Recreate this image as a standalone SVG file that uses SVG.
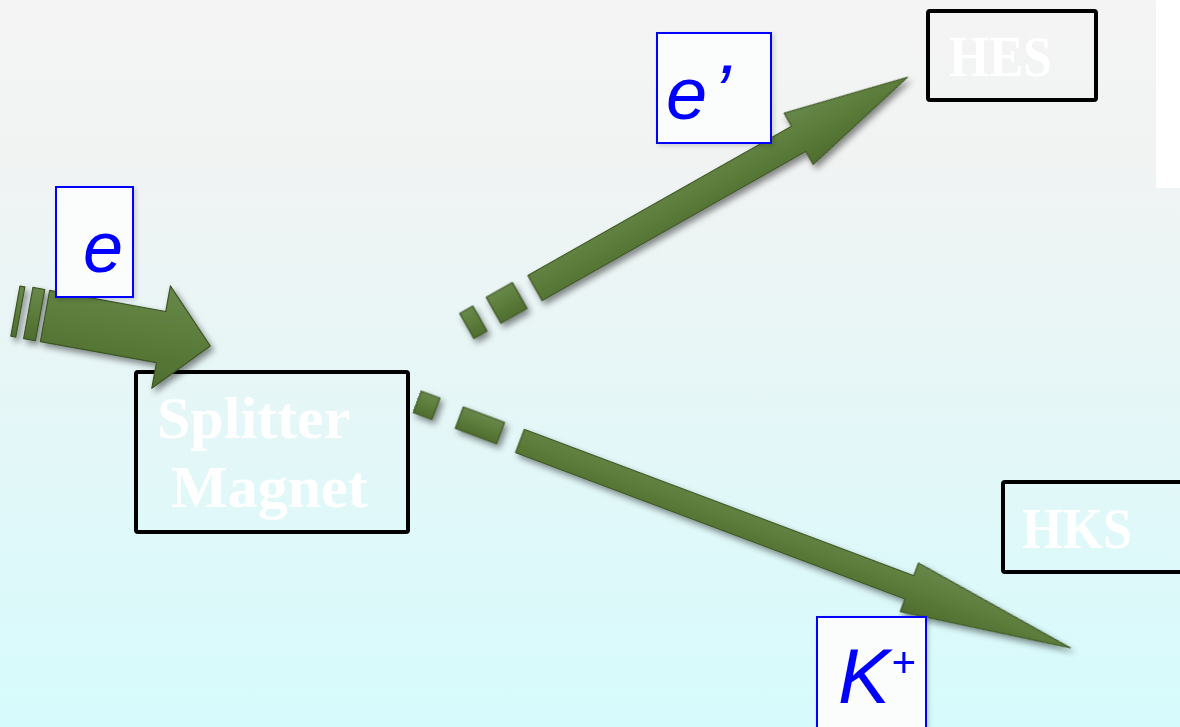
<svg xmlns="http://www.w3.org/2000/svg" width="1180" height="727" viewBox="0 0 1180 727">
  <defs>
    <linearGradient id="bg" x1="0" y1="0" x2="0" y2="1">
      <stop offset="0" stop-color="#f4f4f4"/>
      <stop offset="0.22" stop-color="#f1f3f3"/>
      <stop offset="1" stop-color="#d6fbfc"/>
    </linearGradient>
    <linearGradient id="arrowFill" x1="0" y1="0" x2="0" y2="1">
      <stop offset="0" stop-color="#67884a"/>
      <stop offset="0.5" stop-color="#5b7c3a"/>
      <stop offset="1" stop-color="#4f6d30"/>
    </linearGradient>
    <filter id="shadow" x="-20%" y="-40%" width="140%" height="180%">
      <feDropShadow dx="3" dy="4" stdDeviation="3" flood-color="#000" flood-opacity="0.45"/>
    </filter>
    <filter id="softShadow" x="-10%" y="-10%" width="130%" height="130%">
      <feDropShadow dx="2" dy="2" stdDeviation="2" flood-color="#000" flood-opacity="0.15"/>
    </filter>
  </defs>
  <style>
    .box { fill: none; stroke: #000; stroke-width: 4; }
    .boxtxt { font-family: "Liberation Serif", "Times New Roman", serif; font-weight: bold; fill: #ffffff; }
    .lbl { fill: #fbfcfc; stroke: #0000ff; stroke-width: 2; }
    .lbltxt { font-family: "Liberation Sans", Arial, sans-serif; font-style: italic; fill: #0000ff; }
    .arrow { fill: url(#arrowFill); stroke: #3c5424; stroke-width: 1.2; stroke-linejoin: round; }
  </style>

  <rect x="0" y="0" width="1180" height="727" fill="url(#bg)"/>
  <rect x="1156" y="0" width="24" height="188" fill="#ffffff"/>

  <g id="node-splitter">
    <rect class="box" x="136" y="372" width="272" height="160" rx="2"/>
    <text class="boxtxt" x="157" y="438" font-size="60">Splitter</text>
    <text class="boxtxt" x="171" y="507" font-size="60">Magnet</text>
  </g>

  <g id="node-hes">
    <rect class="box" x="928" y="11" width="168" height="89" rx="2"/>
    <text class="boxtxt" x="949" y="76" font-size="56" textLength="103" lengthAdjust="spacingAndGlyphs">HES</text>
  </g>

  <g id="node-hks">
    <rect class="box" x="1003" y="482" width="190" height="90" rx="2"/>
    <text class="boxtxt" x="1022" y="548" font-size="56" textLength="110" lengthAdjust="spacingAndGlyphs">HKS</text>
  </g>

  <g id="connectors" filter="url(#shadow)">
    <g id="arrow-e" transform="translate(45,316) rotate(10.3)">
      <polygon class="arrow" points="-30,-25 -25,-25 -25,26 -30,26"/>
      <polygon class="arrow" points="-17,-26 -5,-26 -5,26 -17,26"/>
      <polygon class="arrow" points="0,-26 118,-26 118,-52 168,0 118,52 118,26 0,26"/>
    </g>
    <g id="arrow-eprime" transform="translate(535,288) rotate(-29.5)">
      <polygon class="arrow" points="-78,-15 -63,-15 -63,14 -78,14"/>
      <polygon class="arrow" points="-47,-16 -17,-16 -17,14 -47,14"/>
      <polygon class="arrow" points="0,-14.5 303,-14.5 303,-29.5 428,0 303,29.5 303,14.5 0,14.5"/>
    </g>
    <g id="arrow-kplus" transform="translate(520,441) rotate(20.6)">
      <polygon class="arrow" points="-110,-12 -90,-12 -90,11 -110,11"/>
      <polygon class="arrow" points="-65,-12 -21,-12 -21,11 -65,11"/>
      <polygon class="arrow" points="0,-12.5 416,-12.5 416,-26 588,0 416,26 416,12.5 0,12.5"/>
    </g>
  </g>

  <g id="label-e" filter="url(#softShadow)">
    <rect class="lbl" x="56" y="187" width="77" height="110"/>
    <text class="lbltxt" x="83" y="272" font-size="72">e</text>
  </g>

  <g id="label-eprime" filter="url(#softShadow)">
    <rect class="lbl" x="657" y="33" width="114" height="110"/>
    <text class="lbltxt" x="666" y="119" font-size="74">e<tspan x="713" font-size="78">’</tspan></text>
  </g>

  <g id="label-kplus" filter="url(#softShadow)">
    <rect class="lbl" x="817" y="617" width="109" height="115"/>
    <text class="lbltxt" x="838" y="703" font-size="78">K</text>
    <text class="lbltxt" x="891" y="677" font-size="42">+</text>
  </g>
</svg>
